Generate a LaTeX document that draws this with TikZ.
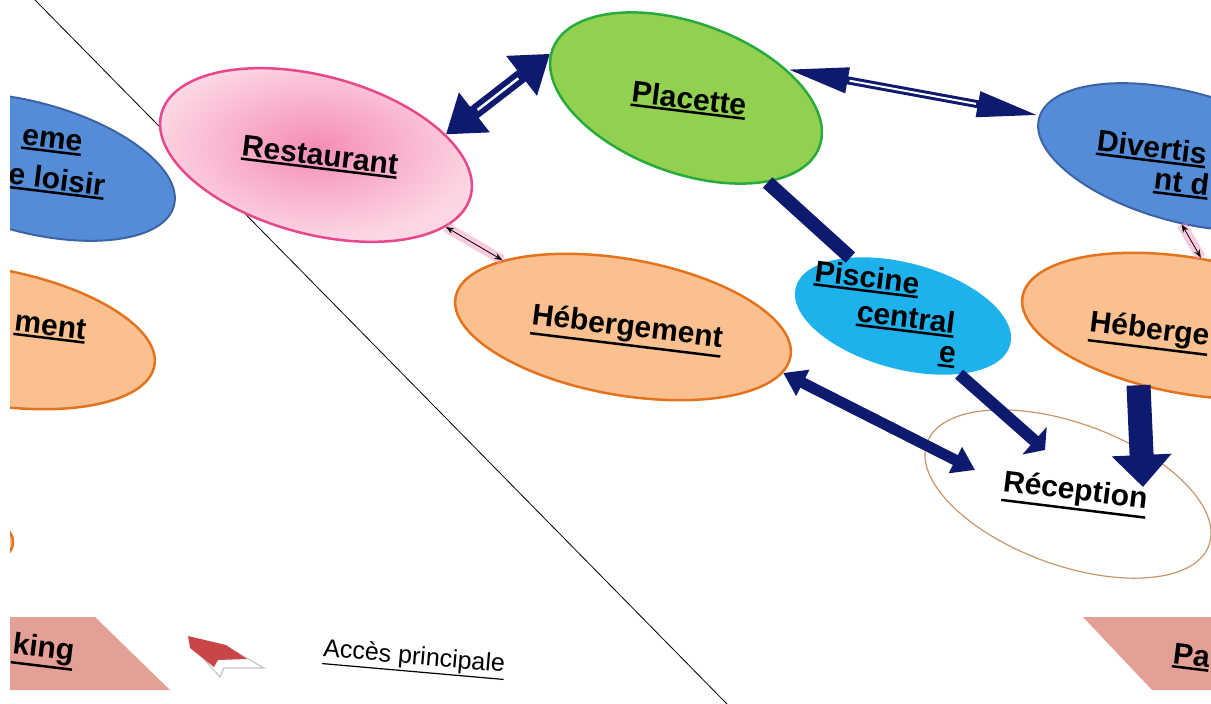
\documentclass[tikz,border=0pt]{standalone}
\usepackage{fontspec}
\setmainfont{Liberation Sans}
\usetikzlibrary{shapes.geometric,arrows.meta,calc}
\definecolor{navy}{RGB}{14,26,110}
\definecolor{roseline}{RGB}{232,72,138}
\definecolor{rosein}{RGB}{245,140,182}
\definecolor{roseout}{RGB}{252,214,228}
\definecolor{greenfill}{RGB}{146,208,80}
\definecolor{greenline}{RGB}{40,170,60}
\definecolor{bluefill}{RGB}{85,140,215}
\definecolor{blueline}{RGB}{60,100,165}
\definecolor{orfill}{RGB}{250,192,144}
\definecolor{orline}{RGB}{228,115,30}
\definecolor{cyanfill}{RGB}{30,178,236}
\definecolor{recline}{RGB}{200,150,105}
\definecolor{parkfill}{RGB}{228,160,150}
\definecolor{arrred}{RGB}{200,70,70}
\newcommand\myul[1]{\vtop{\hbox{#1}\kern1.5pt\hrule height 2.5pt}}
\newcommand\myulthin[1]{\vtop{\hbox{#1}\kern1.5pt\hrule height 1.2pt}}
\begin{document}
\begin{tikzpicture}[x=1pt,y=-1pt,
  ell/.style={ellipse, inner sep=0pt},
  restell/.style={ell, draw=roseline, line width=2.5pt, inner color=rosein, outer color=roseout},
  placell/.style={ell, draw=greenline, line width=2.5pt, fill=greenfill},
  blueell/.style={ell, draw=blueline, line width=2pt, fill=bluefill},
  orell/.style={ell, draw=orline, line width=2.5pt, fill=orfill},
  piscell/.style={ell, fill=cyanfill},
  recell/.style={ell, draw=recline, line width=1.2pt, fill=white},
  lbl/.style={font=\fontsize{30}{34}\selectfont\bfseries, inner sep=0pt, rotate=-7},
  lblsmall/.style={font=\fontsize{25}{29}\selectfont, inner sep=0pt, rotate=-5},
  park/.style={fill=parkfill},
  bigarrow/.style={navy, line width=14pt, {Triangle[length=36pt,width=48pt]}-{Triangle[length=36pt,width=48pt]}},
  longarrow/.style={navy, line width=8pt, {Triangle[length=62pt,width=24pt]}-{Triangle[length=62pt,width=24pt]}},
  whitecore/.style={white, line width=2.5pt},
  thinarrow/.style={black, line width=0.8pt, {Stealth[length=8pt,width=6pt]}-{Stealth[length=8pt,width=6pt]}},
  glow/.style={rosein, opacity=0.45, line width=10pt},
]
\useasboundingbox (0,0) rectangle (1211,704);
\fill[white] (0,0) rectangle (1211,704);
\begin{scope}
\clip (10,0) rectangle (1211,704);

% divider line
\coordinate (ltop) at (35,0);
\coordinate (lbot) at (727,704);
\draw[black, line width=0.8pt] (ltop) -- (lbot);

% left partial shapes
\node[blueell, minimum width=300pt, minimum height=130pt, rotate=-15] (divl) at (29,167) {};
\node[lbl, anchor=east] (divltxt1) at (82,146) {\myul{eme}};
\node[lbl, anchor=east] (divltxt2) at (105,187) {\myul{e loisir}};
\node[orell, minimum width=340pt, minimum height=136pt, rotate=-10] (hebl) at (-13,336) {};
\node[lbl, anchor=east] (hebltxt) at (86,332) {\myul{ment}};
\node[orell, minimum width=50pt, minimum height=40pt] (smallor) at (-12,542) {};
\path[park] (10,617) -- (95,617) -- (170,690) -- (10,690) -- cycle;
\node[lbl, anchor=east] (parkltxt) at (74,655) {\myul{king}};

% legend arrow
\path[fill=white, draw=gray!45, line width=1.2pt] (196,650) -- (236,652) -- (264,668) -- (224,668) -- (220,677) -- cycle;
\path[fill=arrred] (188,636) -- (226,645) -- (247,659) -- (218,660) -- (214,667) -- (190,648) -- cycle;
\node[lblsmall] (acces) at (414,659) {\myulthin{Accès principale}};

% main nodes
\node[restell, minimum width=320pt, minimum height=158pt, rotate=-15] (rest) at (316,155) {};
\node[lbl] (resttxt) at (320,157) {\myul{Restaurant}};
\node[placell, minimum width=284pt, minimum height=150pt, rotate=-20] (plac) at (686,98) {};
\node[lbl] (plactxt) at (689,100) {\myul{Placette}};
\node[blueell, minimum width=300pt, minimum height=130pt, rotate=-15] (div) at (1184,157) {};
\node[lbl, anchor=west] (divtxt1) at (1097,142) {\myul{Divertis}};
\node[lbl, anchor=east] (divtxt2) at (1209,187) {\myul{nt d}};
\node[orell, minimum width=340pt, minimum height=136pt, rotate=-10] (heb) at (623,327) {};
\node[lbl] (hebtxt) at (627,330) {\myul{Hébergement}};
\node[piscell, minimum width=222pt, minimum height=106pt, rotate=-15] (pisc) at (903,316) {};
\node[lbl] (pisctxt1) at (867,279) {\myul{Piscine}};
\node[lbl] (pisctxt2) at (906,319) {\myul{central}};
\node[lbl] (pisctxt3) at (947,357) {\myul{e}};
\node[orell, minimum width=340pt, minimum height=136pt, rotate=-10] (hebr) at (1190,326) {};
\node[lbl, anchor=east] (hebrtxt) at (1209,340) {\myul{Héberge}};
\node[recell, minimum width=300pt, minimum height=142pt, rotate=-20] (rec) at (1068,494) {};
\node[lbl] (rectxt) at (1075,494) {\myul{Réception}};
\path[park] (1083,617) -- (1211,617) -- (1211,690) -- (1152,690) -- cycle;
\node[lbl, anchor=west] (parkrtxt) at (1173,655) {\myul{Pa}};

% arrow ends inside Réception
\coordinate (recA) at (975,470);
\coordinate (recB) at (1045,450);
\coordinate (recC) at (1143,487);

% connectors
\draw[bigarrow] (rest.24) -- (plac.182);
\draw[whitecore, shorten <=40pt, shorten >=40pt] (rest.24) -- (plac.182);
\draw[longarrow] (plac.36) -- (div.179);
\draw[whitecore, line width=2pt, shorten <=64pt, shorten >=64pt] (plac.36) -- (div.179);
\draw[navy, line width=14pt] (plac.-26) -- (pisc.147);
\draw[glow] (rest.-14) -- (heb.161);
\draw[thinarrow] (rest.-14) -- (heb.161);
\draw[glow] (div.-77) -- (hebr.91);
\draw[thinarrow] (div.-77) -- (hebr.91);
\draw[navy, line width=11pt, {Triangle[length=22pt,width=28pt]}-{Triangle[length=22pt,width=28pt]}] (heb.-6) -- (recA);
\draw[navy, line width=12pt, -{Triangle[length=14pt,width=36pt]}] (pisc.-31) -- (recB);
\draw[navy, line width=24pt, -{Triangle[length=32pt,width=58pt]}] (hebr.239) -- (recC);
\end{scope}
\end{tikzpicture}
\end{document}
